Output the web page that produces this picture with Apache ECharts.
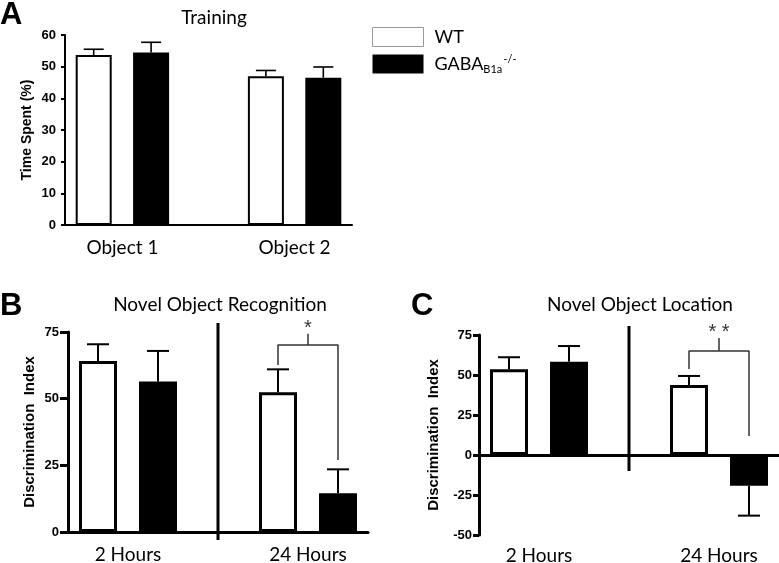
<!DOCTYPE html>
<html>
<head>
<meta charset="utf-8">
<script src="https://cdn.jsdelivr.net/npm/echarts@6/dist/echarts.min.js"></script>
<style>html,body{margin:0;padding:0;background:#fff}#c{width:779px;height:563px}</style>
</head>
<body>
<div id="c"></div>
<script>
// ---- data ----
const catA = ['Object 1', 'Object 2'];
const catBC = ['2 Hours', '24 Hours'];
const wtA = [53.7, 47.0];
const wtAErr = [1.8, 1.8];
const koA = [54.5, 46.5];
const koAErr = [3.2, 3.4];
const wtB = [64.1, 52.4];
const wtBErr = [6.3, 8.6];
const koB = [56.4, 14.5];
const koBErr = [11.5, 9.0];
const wtC = [53.6, 43.8];
const wtCErr = [7.5, 5.6];
const koC = [58.3, -19.2];
const koCErr = [9.8, 18.7];
const ticksA = [0, 60, 10];
const ticksB = [0, 75, 25];
const ticksC = [-50, 75, 25];
// significance annotations (value units): [left leg bottom, bracket top, right leg bottom, center tick top, star]
const sigB = {text: '*', left: 62.6, top: 70.1, right: 27.0, tick: 74.3, star: 76.3};
const sigC = {text: '* *', left: 53.8, top: 65.0, right: 11.9, tick: 73.1, star: 76.5};
const dividerB = [78.4, -3];
const dividerC = [80.6, -10];

const WT = 'WT';
const KO = 'GABAB1a-/-';
const labelFont = 'Lato';
const boldFont = 'Liberation Sans';

function slots(vals, k) {
  const a = ['-', '-', '-', '-', '-'];
  vals.forEach((v, g) => { a[g * 3 + k] = v; });
  return a;
}
function errData(vals, errs, k) {
  return vals.map((v, g) => [g * 3 + k, v, v >= 0 ? v + errs[g] : v - errs[g]]);
}
function errSeries(gi, vals, errs, k, cap, lw) {
  return {
    type: 'custom', xAxisIndex: gi * 3, yAxisIndex: gi, z: 5,
    encode: {x: 0, y: [1, 2]},
    data: errData(vals, errs, k),
    renderItem: function (params, api) {
      const x = api.value(0);
      const p0 = api.coord([x, api.value(1)]);
      const p1 = api.coord([x, api.value(2)]);
      const st = {stroke: '#000', lineWidth: lw};
      return {type: 'group', children: [
        {type: 'line', shape: {x1: p0[0], y1: p0[1], x2: p1[0], y2: p1[1]}, style: st},
        {type: 'line', shape: {x1: p1[0] - cap / 2, y1: p1[1], x2: p1[0] + cap / 2, y2: p1[1]}, style: st}
      ]};
    },
    silent: true
  };
}
function barSeries(gi, name, vals, k, bw, border) {
  return {
    type: 'bar', name: name, xAxisIndex: gi * 3, yAxisIndex: gi,
    data: slots(vals, k), barWidth: bw, barGap: '-100%',
    itemStyle: {color: k === 0 ? '#fff' : '#000', borderColor: '#000', borderWidth: border},
    silent: true
  };
}
function xAxes(gi, cats, lw, tickLen, margin) {
  return [
    {type: 'category', gridIndex: gi, data: ['', '', '', '', ''], boundaryGap: true,
      axisLine: {onZero: true, lineStyle: {color: '#000', width: lw}},
      axisTick: {alignWithLabel: true, length: tickLen, lineStyle: {color: '#000', width: lw}},
      axisLabel: {show: false}, splitLine: {show: false}},
    {type: 'category', gridIndex: gi, data: ['', cats[0], '', '', cats[1], ''], boundaryGap: false,
      position: 'bottom', axisLine: {show: false, onZero: false}, axisTick: {show: false},
      axisLabel: {interval: 0, margin: margin, fontFamily: labelFont, fontSize: 19, color: '#000'}},
    {type: 'value', gridIndex: gi, min: -0.5, max: 4.5, show: false}
  ];
}
function yAxis(gi, t, name, nameGap, nameSize, lw, tickLen, margin) {
  return {
    type: 'value', gridIndex: gi, min: t[0], max: t[1], interval: t[2],
    name: name, nameLocation: 'middle', nameGap: nameGap, nameRotate: 90,
    nameTextStyle: {fontFamily: boldFont, fontWeight: 'bold', fontSize: nameSize, color: '#000'},
    axisLine: {show: true, onZero: false, lineStyle: {color: '#000', width: lw}},
    axisTick: {show: true, length: tickLen, lineStyle: {color: '#000', width: lw}},
    axisLabel: {fontFamily: boldFont, fontWeight: 'bold', fontSize: 13, color: '#000', margin: margin},
    splitLine: {show: false}
  };
}
function annot(gi, sig, div, lwDiv) {
  return [
    {type: 'line', xAxisIndex: gi * 3 + 2, yAxisIndex: gi, clip: false, symbol: 'none', silent: true,
      data: [[2, div[0]], [2, div[1]]], lineStyle: {color: '#000', width: lwDiv}},
    {type: 'line', xAxisIndex: gi * 3 + 2, yAxisIndex: gi, clip: false, symbol: 'none', silent: true,
      data: [[3, sig.left], [3, sig.top], [3.5, sig.top], [3.5, sig.tick], [3.5, sig.top], [4, sig.top], [4, sig.right]],
      lineStyle: {color: '#333', width: 1.5}},
    {type: 'scatter', xAxisIndex: gi * 3 + 2, yAxisIndex: gi, clip: false, silent: true,
      data: [[3.5, sig.star]], symbolSize: 1, itemStyle: {color: 'rgba(0,0,0,0)'},
      label: {show: true, position: 'inside', formatter: sig.text, fontFamily: boldFont, fontSize: 20, color: '#000'}}
  ];
}

const chart = echarts.init(document.getElementById('c'), null, {renderer: 'canvas'});
const titleStyle = {fontFamily: labelFont, fontSize: 19, fontWeight: 'normal', color: '#000'};
const panelStyle = {fontFamily: boldFont, fontSize: 31, fontWeight: 'bold', color: '#000'};
chart.setOption({
  animation: false,
  backgroundColor: '#fff',
  title: [
    {text: 'A', left: 0, top: 0, padding: 0, textStyle: panelStyle},
    {text: 'Training', left: 214, top: 8, padding: 0, textAlign: 'center', textStyle: titleStyle},
    {text: 'B', left: 0, top: 291, padding: 0, textStyle: panelStyle},
    {text: 'Novel Object Recognition', left: 220, top: 295, padding: 0, textAlign: 'center', textStyle: titleStyle},
    {text: 'C', left: 411, top: 291, padding: 0, textStyle: panelStyle},
    {text: 'Novel Object Location', left: 640, top: 295, padding: 0, textAlign: 'center', textStyle: titleStyle}
  ],
  legend: {
    orient: 'vertical', left: 372, top: 27, itemWidth: 51, itemHeight: 19, itemGap: 7, padding: 0,
    selectedMode: false, icon: 'rect',
    data: [
      {name: WT, itemStyle: {color: '#fff', borderColor: '#999', borderWidth: 1}},
      {name: KO, itemStyle: {color: '#000', borderColor: '#000', borderWidth: 0}}
    ],
    formatter: function (n) { return n === WT ? '{a|WT}' : '{a|GABA}{sub|B1a}{sup|-/-}'; },
    textStyle: {
      fontFamily: labelFont, fontSize: 18, color: '#000', padding: [0, 0, 0, 6],
      rich: {
        a: {fontFamily: labelFont, fontSize: 18, color: '#000'},
        sub: {fontFamily: labelFont, fontSize: 11, color: '#000', padding: [10, 0, 0, 0]},
        sup: {fontFamily: labelFont, fontSize: 11, color: '#000', padding: [0, 0, 9, 1]}
      }
    }
  },
  grid: [
    {left: 65, top: 35, width: 287, height: 190, outerBoundsMode: 'none', containLabel: false},
    {left: 68, top: 332, width: 300, height: 200, outerBoundsMode: 'none', containLabel: false},
    {left: 479, top: 335, width: 300, height: 200, outerBoundsMode: 'none', containLabel: false}
  ],
  xAxis: [].concat(xAxes(0, catA, 2, 5, 13), xAxes(1, catBC, 3, 7, 13), xAxes(2, catBC, 3, 8, 11)),
  yAxis: [
    yAxis(0, ticksA, 'Time Spent (%)', 31, 14, 2, 4, 9),
    yAxis(1, ticksB, 'Discrimination  Index', 31, 15, 3, 8, 9),
    yAxis(2, ticksC, 'Discrimination  Index', 38, 15, 3, 6, 7)
  ],
  series: [].concat(
    [barSeries(0, WT, wtA, 0, 36, 2), barSeries(0, KO, koA, 1, 36, 2),
     errSeries(0, wtA, wtAErr, 0, 20, 1.6), errSeries(0, koA, koAErr, 1, 20, 1.6),
     barSeries(1, WT, wtB, 0, 38, 3), barSeries(1, KO, koB, 1, 38, 3),
     errSeries(1, wtB, wtBErr, 0, 22, 2), errSeries(1, koB, koBErr, 1, 22, 2),
     barSeries(2, WT, wtC, 0, 38, 3), barSeries(2, KO, koC, 1, 38, 3),
     errSeries(2, wtC, wtCErr, 0, 22, 2), errSeries(2, koC, koCErr, 1, 22, 2)],
    annot(1, sigB, dividerB, 3),
    annot(2, sigC, dividerC, 3)
  )
});
</script>
</body>
</html>
